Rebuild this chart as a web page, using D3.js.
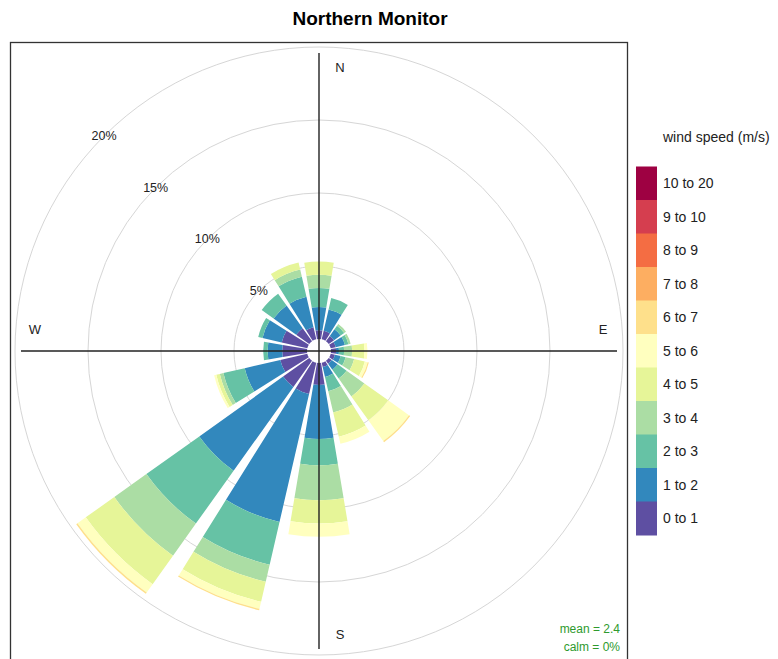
<!DOCTYPE html>
<html>
<head>
<meta charset="utf-8">
<script src="https://cdn.jsdelivr.net/npm/d3@7"></script>
<style>
  html, body { margin: 0; padding: 0; background: #fff; }
  svg { display: block; font-family: "Liberation Sans", Arial, sans-serif; }
</style>
</head>
<body>
<svg id="chart" width="778" height="659"></svg>
<script>
// ---- data (percent of time per direction, per wind speed bin) ----
const directions = ["N","NNE","NE","ENE","E","ESE","SE","SSE","S","SSW","SW","WSW","W","WNW","NW","NNW"];
const directionAngles = [0,22.5,45,67.5,90,112.5,135,157.5,180,202.5,225,247.5,270,292.5,315,337.5];
const speedBins = ["0 to 1","1 to 2","2 to 3","3 to 4","4 to 5","5 to 6","6 to 7","7 to 8","8 to 9","9 to 10","10 to 20"];
const binColors = ["#5E4FA2","#3288BD","#66C2A5","#ABDDA4","#E6F598","#FFFFBF","#FEE08B","#FDAE61","#F46D43","#D53E4F","#9E0142"];

const s0to1  = [0.6,0.6,0.45,0.35,0.35,0.3,0.25,0.3,1.5,2.2,2.2,1.9,1.7,1.8,1.1,0.85];
const s1to2  = [1.6,1.5,0.55,0.65,0.2,0.4,0.5,0.7,3.7,9.0,7.05,2.5,1.0,1.35,1.9,2.15];
const s2to3  = [1.3,0.8,0.3,0.25,0.35,0.35,0.75,1.0,1.8,3.0,4.45,1.5,0.3,0.3,1.0,1.4];
const s3to4  = [0.9,0,0.15,0.15,0.55,0.6,1.5,1.5,2.4,1.2,2.7,0.25,0,0,0,0.5];
const s4to5  = [0.9,0,0,0,0.85,0.75,2.0,1.7,1.6,1.4,2.4,0.25,0,0,0,0.5];
const s5to6  = [0,0,0,0,0.2,0.2,1.75,0.5,0.9,0.5,0.7,0.15,0,0,0,0];
const s6to7  = [0,0,0,0,0,0.08,0.1,0,0,0.1,0.1,0,0,0,0,0];
const s7to8  = [0,0,0,0,0,0,0,0,0,0,0,0,0,0,0,0];
const s8to9  = [0,0,0,0,0,0,0,0,0,0,0,0,0,0,0,0];
const s9to10 = [0,0,0,0,0,0,0,0,0,0,0,0,0,0,0,0];
const s10to20= [0,0,0,0,0,0,0,0,0,0,0,0,0,0,0,0];
const seriesValues = [s0to1,s1to2,s2to3,s3to4,s4to5,s5to6,s6to7,s7to8,s8to9,s9to10,s10to20];

const gridTicks = [5,10,15,20];
const tickLabels = ["5%","10%","15%","20%"];
const compassLabels = ["N","E","S","W"];
const meanText = "mean = 2.4";
const calmText = "calm = 0%";
const titleText = "Northern Monitor";
const legendTitle = "wind speed (m/s)";

// ---- layout ----
const svg = d3.select("#chart");
const cx = 319, cy = 351;
const r = d3.scaleLinear().domain([0, 20]).range([12, 304]);
const halfWidth = 9.5 * Math.PI / 180;
const toRad = d => d * Math.PI / 180;

// title
svg.append("text").attr("x", 370).attr("y", 25).attr("text-anchor", "middle")
  .attr("font-size", 19).attr("font-weight", "bold").attr("fill", "#000").text(titleText);

// panel
svg.append("rect").attr("x", 10.5).attr("y", 42.5).attr("width", 617).attr("height", 640)
  .attr("fill", "#fff").attr("stroke", "#333").attr("stroke-width", 1.3);

const g = svg.append("g").attr("transform", `translate(${cx},${cy})`);

// grid circles
g.selectAll("circle.grid").data(gridTicks).join("circle")
  .attr("class", "grid").attr("r", d => r(d))
  .attr("fill", "none").attr("stroke", "#d6d6d6").attr("stroke-width", 1);

// stacked wedges
const stack = d3.stack().keys(d3.range(speedBins.length))
  .value((d, k) => seriesValues[k][d]);
const stacked = stack(d3.range(directions.length));
const arc = d3.arc();
stacked.forEach((layer, k) => {
  g.append("g").selectAll("path").data(layer).join("path")
    .filter(d => d[1] - d[0] > 0)
    .attr("d", (d, i) => {
      const a = toRad(directionAngles[d.data]);
      return arc({innerRadius: r(d[0]), outerRadius: r(d[1]), startAngle: a - halfWidth, endAngle: a + halfWidth});
    })
    .attr("fill", binColors[k]).attr("stroke", "none");
});

// axis lines
const L = 298;
g.append("line").attr("x1", 0).attr("x2", 0).attr("y1", -L).attr("y2", L)
  .attr("stroke", "#222").attr("stroke-width", 1.4);
g.append("line").attr("x1", -L).attr("x2", L).attr("y1", 0).attr("y2", 0)
  .attr("stroke", "#222").attr("stroke-width", 1.4);

// compass labels
const lr = 283;
const compassPos = {N: [21, -lr + 4], E: [lr + 1, -21 + 4], S: [21, lr + 5], W: [-lr - 1, -21 + 4]};
compassLabels.forEach(c => {
  g.append("text").attr("x", compassPos[c][0]).attr("y", compassPos[c][1])
    .attr("text-anchor", "middle").attr("font-size", 13).attr("fill", "#222").text(c);
});

// percent labels along 315 deg
gridTicks.forEach((t, i) => {
  const a = toRad(315);
  g.append("text").attr("x", r(t) * Math.sin(a)).attr("y", -r(t) * Math.cos(a) + 4)
    .attr("text-anchor", "middle").attr("font-size", 12.5).attr("fill", "#222").text(tickLabels[i]);
});

// mean / calm
svg.append("text").attr("x", 620).attr("y", 633).attr("text-anchor", "end")
  .attr("font-size", 12).attr("fill", "#2e9a2e").text(meanText);
svg.append("text").attr("x", 620).attr("y", 651).attr("text-anchor", "end")
  .attr("font-size", 12).attr("fill", "#2e9a2e").text(calmText);

// legend
svg.append("text").attr("x", 663).attr("y", 142).attr("font-size", 14).attr("fill", "#222").text(legendTitle);
const legTop = 166.5, legH = 33.5;
const legOrder = d3.range(speedBins.length).reverse();
const leg = svg.append("g");
leg.selectAll("rect").data(legOrder).join("rect")
  .attr("x", 636).attr("y", (d, i) => legTop + i * legH).attr("width", 21).attr("height", legH + 0.5)
  .attr("fill", d => binColors[d]);
leg.selectAll("text").data(legOrder).join("text")
  .attr("x", 663).attr("y", (d, i) => legTop + i * legH + legH / 2 + 5)
  .attr("font-size", 14).attr("fill", "#222").text(d => speedBins[d]);
</script>
</body>
</html>
